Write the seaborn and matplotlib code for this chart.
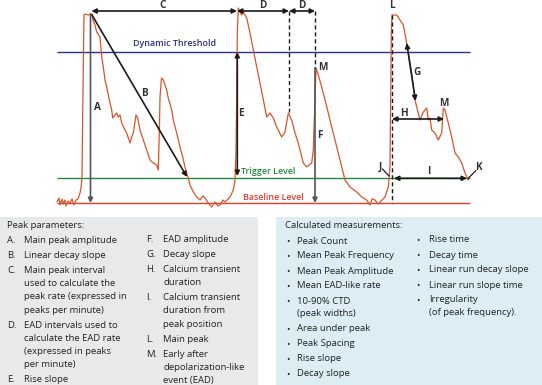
import numpy as np
import pandas as pd
import seaborn as sns
import matplotlib.pyplot as plt
from matplotlib.patches import Rectangle

# calcium trace (pixel-like units, y grows downward)
trace_x = [57, 59, 60, 62, 63, 65, 66, 68, 70, 72, 74, 76, 78, 80, 81, 82, 83, 84, 85, 88, 92, 93, 95, 96.7,
           100, 101.7, 103.3, 105, 106.7, 109.3, 111.7, 112.7, 115, 116.7, 118.3, 120, 121.7, 124, 126.7,
           130, 131.7, 133.3, 136, 137.7, 140, 143.3, 146.7, 150, 153.3, 156.7, 158.3, 159.3, 160, 161.5,
           163.3, 166.7, 168, 171.7, 173.3, 176.7, 180, 182.7, 185, 186.7, 188.3, 190, 193.3, 196.7, 200,
           203, 205, 208.3, 211.7, 215, 218, 220, 223, 225, 228, 230, 233.3, 235, 236, 236.7, 237.3, 238.3,
           240, 241.7, 243, 245, 246.7, 250, 253.3, 256.7, 260, 263.3, 266.7, 270, 273.3, 276.7, 281.7, 285,
           288.3, 291.7, 295, 298.3, 300, 303.3, 306.7, 309, 311.7, 313.3, 315, 316, 318.3, 321.7, 325,
           328.3, 331.7, 335, 338.3, 341.7, 345, 350, 356.7, 361.7, 366.7, 370, 372, 375, 378, 380, 383, 385,
           388.3, 390, 390.7, 391.3, 392, 393.3, 396.7, 400, 403.3, 406.7, 408.3, 411.7, 415, 418.3, 420,
           423.3, 426.7, 428.3, 430, 431.7, 435, 438.3, 441.7, 443.3, 445, 448.3, 451.7, 455, 458.3, 461.7,
           465, 468.3]
trace_y = [202, 198, 205, 199, 204, 200, 206, 201, 203, 199, 205, 200, 199, 193, 188, 178, 88, 15, 14, 15, 14,
           20, 25, 32, 37, 57, 67, 80, 87, 100, 110, 118, 115, 113, 117, 115, 123, 128, 133, 143, 137, 133,
           115, 118, 130, 140, 150, 160, 163, 165, 170, 133, 97, 78, 80, 90, 97, 110, 120, 133, 147, 157,
           167, 173, 178, 185, 192, 197, 200, 196, 198, 203, 207, 202, 206, 205, 200, 202, 199, 197, 190,
           180, 150, 100, 33, 8, 12, 15, 12, 15, 18, 33, 50, 67, 83, 100, 117, 113, 118, 127, 137, 132,
           113, 120, 133, 143, 150, 163, 167, 165, 163, 150, 100, 68, 75, 87, 100, 113, 127, 140, 153, 167,
           180, 187, 192, 197, 200, 205, 199, 200, 204, 202, 199, 197, 187, 167, 100, 33, 15, 15, 15, 20,
           25, 43, 53, 73, 100, 113, 120, 112, 108, 120, 118, 130, 133, 140, 133, 108, 110, 123, 137, 153,
           157, 163, 173, 180]

level_names = ["Dynamic Threshold", "Trigger Level", "Baseline Level"]
level_values = [51.7, 178.3, 203.3]

peak_params_left = [("A.", ["Main peak amplitude"]),
                    ("B.", ["Linear decay slope"]),
                    ("C.", ["Main peak interval", "used to calculate the",
                            "peak rate (expressed in", "peaks per minute)"]),
                    ("D.", ["EAD intervals used to", "calculate the EAD rate",
                            "(expressed in peaks", "per minute)"]),
                    ("E.", ["Rise slope"])]
peak_params_right = [("F.", ["EAD amplitude"]),
                     ("G.", ["Decay slope"]),
                     ("H.", ["Calcium transient", "duration"]),
                     ("I.", ["Calcium transient", "duration from", "peak position"]),
                     ("L.", ["Main peak"]),
                     ("M.", ["Early after", "depolarization-like", "event (EAD)"])]
calc_left = [["Peak Count"], ["Mean Peak Frequency"], ["Mean Peak Amplitude"], ["Mean EAD-like rate"],
             ["10-90% CTD", "(peak widths)"], ["Area under peak"], ["Peak Spacing"], ["Rise slope"],
             ["Decay slope"]]
calc_right = [["Rise time"], ["Decay time"], ["Linear run decay slope"], ["Linear run slope time"],
              ["Irregularity", "(of peak frequency)."]]

sns.set_style("white")
plt.rcParams['font.family'] = ['Open Sans', 'DejaVu Sans']

fig = plt.figure(figsize=(5.42, 3.85), dpi=100)
ax = fig.add_axes([0, 0, 1, 1])

# levels
level_colors = ["#2b2f80", "#1f8a3c", "#e53a2c"]
for v, c in zip(level_values, level_colors):
    ax.hlines(v, 57, 470, color=c, lw=1)
ax.text(175, 44, level_names[0], color=level_colors[0], fontsize=6.4, ha="center", va="center", fontweight="semibold")
ax.text(268, 172, level_names[1], color=level_colors[1], fontsize=6.4, ha="center", va="center", fontweight="semibold")
ax.text(273, 198, level_names[2], color=level_colors[2], fontsize=6.4, ha="center", va="center", fontweight="semibold")

df = pd.DataFrame({"x": trace_x, "y": trace_y})
sns.lineplot(data=df, x="x", y="y", ax=ax, color="#d9532c", lw=0.9, sort=False, estimator=None)
ax.set_xlim(0, 542)
ax.set_ylim(385, 0)
ax.axis("off")

def arrow(p0, p1, style="<|-|>", color="#1a1a1a", ls="-"):
    ax.annotate("", xy=p1, xytext=p0,
                arrowprops=dict(arrowstyle=style, color=color, lw=1.2, ls=ls,
                                mutation_scale=7, shrinkA=0, shrinkB=0))

def label(x, y, s):
    ax.text(x, y, s, fontsize=7.2, fontweight="bold", color="#333333", ha="center", va="center")

# A, F amplitudes
arrow((90.5, 14), (90.5, 203), style="-|>", color="#555555")
label(97, 108, "A")
arrow((315, 68), (315, 203), style="-|>", color="#555555")
label(320, 136, "F")
# B linear decay
arrow((92, 15), (187, 177), style="-|>")
label(144, 94, "B")
# C / D intervals
arrow((91.5, 11), (237, 11))
label(163, 6, "C")
arrow((237, 11), (289, 11))
label(263, 6, "D")
arrow((289, 11), (315, 11))
label(302, 6, "D")
ax.vlines(289, 11, 112, color="#1a1a1a", lw=1, linestyles=(0, (3, 2)))
ax.vlines(315, 11, 68, color="#1a1a1a", lw=1, linestyles=(0, (3, 2)))
label(323, 68, "M")
# E rise
arrow((237.3, 52), (237.3, 176))
label(240.5, 114, "E")
# L main peak
ax.vlines(392.3, 15, 203, color="#1a1a1a", lw=1, linestyles=(0, (3, 2)))
label(392.3, 6, "L")
# G decay
arrow((406.7, 43), (415.5, 101))
label(417, 72.5, "G")
# H duration
arrow((392, 119), (444, 119))
label(403.5, 114, "H")
label(443.5, 104, "M")
# I duration from peak
arrow((394, 178.3), (467, 178.3))
label(429, 172, "I")
# J, K
label(380.5, 167, "J")
ax.plot([382.5, 389], [169, 176], color="#1a1a1a", lw=0.9)
label(478.5, 168, "K")
ax.plot([476, 468], [170.5, 178.5], color="#1a1a1a", lw=0.9)

# info boxes
ax.add_patch(Rectangle((0, 217), 258, 168, facecolor="#e8e9ea", edgecolor="none"))
ax.add_patch(Rectangle((276, 217), 266, 168, facecolor="#dcedf3", edgecolor="none"))

fs = 6.8
txt = "#222222"
ax.text(7, 225.5, "Peak parameters:", fontsize=fs, color=txt, va="center")
ax.text(285, 225, "Calculated measurements:", fontsize=fs, color=txt, va="center")

def item_list(items, x_mark, x_text, y0, marker=None, line_h=13.2, gap=2.0):
    y = y0
    for it in items:
        if marker is None:
            m, lines = it
            ax.text(x_mark, y, m, fontsize=fs, color=txt, va="center")
        else:
            lines = it
            ax.text(x_mark, y + 0.8, marker, fontsize=6.5, color=txt, va="center")
        for ln in lines:
            ax.text(x_text, y, ln, fontsize=fs, color=txt, va="center")
            y += line_h
        y += gap

item_list(peak_params_left, 7, 24, 240.5, line_h=13.2, gap=1.8)
item_list(peak_params_right, 146, 163, 239.5, line_h=13.2, gap=1.8)
item_list(calc_left, 286, 297, 241, marker="•", line_h=12.8, gap=2.2)
item_list(calc_right, 416, 429, 240, marker="•", line_h=12.8, gap=2.2)

fig.savefig("out.png", dpi=100)
